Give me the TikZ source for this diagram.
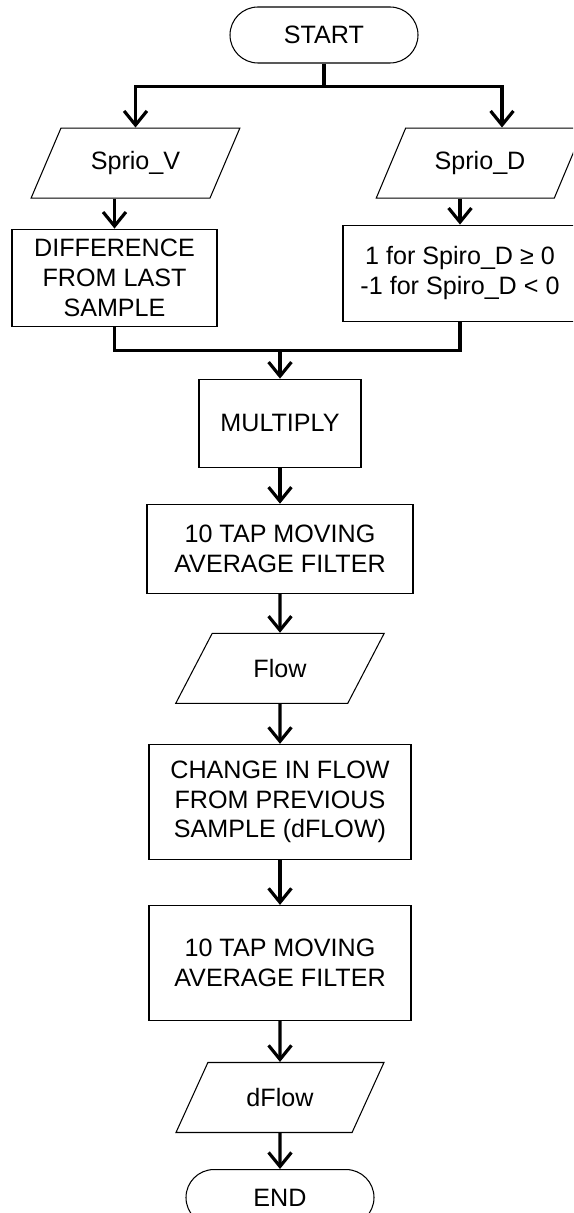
\documentclass[tikz,border=0pt]{standalone}
\usepackage{fontspec}
\setmainfont{Liberation Sans}
\usetikzlibrary{shapes.geometric, arrows.meta, positioning, calc}
\tikzstyle{terminal} = [rectangle, rounded corners=0.56cm, minimum width=3.76cm, minimum height=1.12cm, text centered, draw=black, line width=0.6pt, font=\fontsize{14.3}{17}\selectfont]
\tikzstyle{io} = [trapezium, trapezium left angle=60, trapezium right angle=120, trapezium stretches=true, minimum width=4.18cm, minimum height=1.4cm, text centered, draw=black, line width=0.6pt, font=\fontsize{14.3}{17}\selectfont]
\tikzstyle{process} = [rectangle, align=center, draw=black, line width=0.6pt, font=\fontsize{14.3}{17}\selectfont]
\tikzstyle{arrow} = [line width=1.8pt, -{Straight Barb[length=8pt, width=13pt, line width=1.8pt]}]
\tikzstyle{line} = [line width=1.8pt]

\begin{document}
\begin{tikzpicture}

    \clip (0,0) rectangle (11.46,-24.26);

    \node (start) [terminal] at (6.48,-0.70) {START};

    \node (sprv) [io, below=1.28cm of start, xshift=-3.77cm] {Sprio\_V};

    \node (sprd) [io, below=1.28cm of start, xshift=3.12cm] {Sprio\_D};

    \node (diff) [process, minimum width=4.1cm, minimum height=1.94cm, below=0.6cm of sprv, xshift=-0.42cm] {DIFFERENCE\\FROM LAST\\SAMPLE};

    \node (sign) [process, minimum width=4.68cm, minimum height=1.92cm, below=0.52cm of sprd, xshift=-0.4cm] {1 for Spiro\_D ≥ 0\\-1 for Spiro\_D < 0};

    \node (mult) [process, minimum width=3.24cm, minimum height=1.76cm, below=1.04cm of diff, xshift=3.31cm] {MULTIPLY};

    \node (avgone) [process, minimum width=5.32cm, minimum height=1.78cm, below=0.72cm of mult] {10 TAP MOVING\\AVERAGE FILTER};

    \node (flow) [io, below=0.78cm of avgone] {Flow};

    \node (change) [process, minimum width=5.24cm, minimum height=2.3cm, below=0.8cm of flow] {CHANGE IN FLOW\\FROM PREVIOUS\\SAMPLE (dFLOW)};

    \node (avgtwo) [process, minimum width=5.24cm, minimum height=2.3cm, below=0.9cm of change] {10 TAP MOVING\\AVERAGE FILTER};

    \node (dflow) [io, below=0.82cm of avgtwo] {dFlow};

    \node (stop) [terminal, below=0.72cm of dflow] {END};

    \coordinate (split) at ($(start.south)+(0,-0.46)$);
    \coordinate (join) at ($(mult.north)+(0,0.56)$);

    \draw[line] (start.south) -- (split);
    \draw[arrow] (split) -| (sprv.north);
    \draw[arrow] (split) -| ($(sprd.north)+(0.44,0)$);
    \draw[arrow] (diff.north |- sprv.south) -- (diff.north);
    \draw[arrow] (sign.north |- sprd.south) -- (sign.north);
    \draw[line] (diff.south) |- (join);
    \draw[line] (sign.south) |- (join);
    \draw[arrow] (join) -- (mult.north);
    \draw[arrow] (mult) -- (avgone);
    \draw[arrow] (avgone) -- (flow);
    \draw[arrow] (flow) -- (change);
    \draw[arrow] (change) -- (avgtwo);
    \draw[arrow] (avgtwo) -- (dflow);
    \draw[arrow] (dflow) -- (stop);

\end{tikzpicture}
\end{document}
